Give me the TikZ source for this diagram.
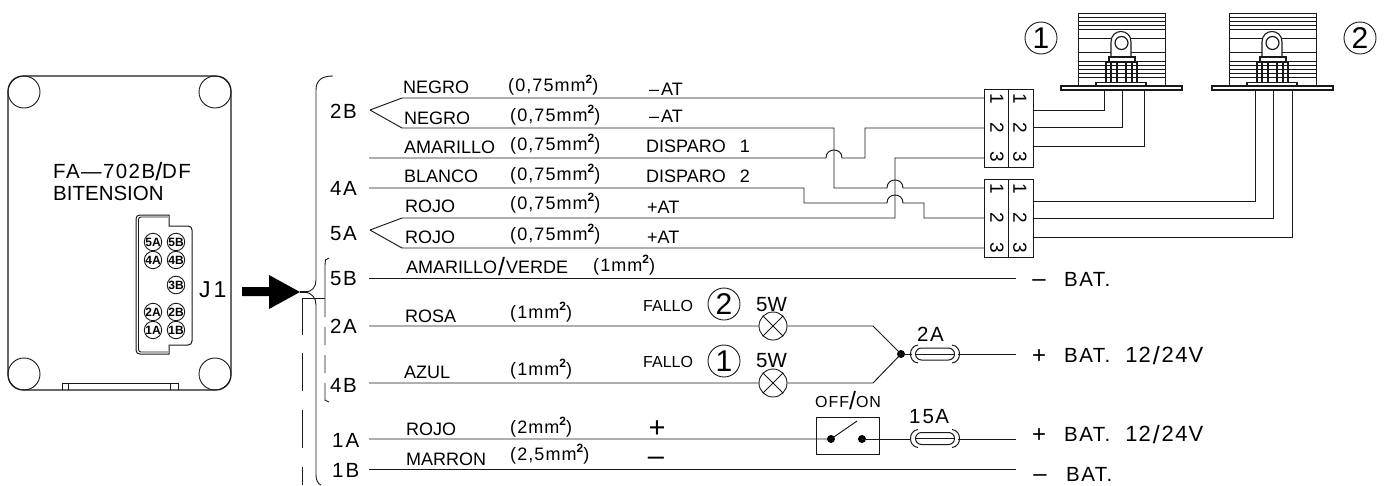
\documentclass[tikz,border=0pt]{standalone}
\usepackage{fontspec}
\setmainfont{Liberation Sans}
\newfontfamily\spfont[LetterSpace=7]{Liberation Sans}
\newfontfamily\midfont[LetterSpace=6]{Liberation Sans}
\tikzset{
  wire/.style={draw=black!90,line width=0.95pt,line join=miter},
  thinl/.style={draw=black!90,line width=0.9pt},
  lab/.style={anchor=base west,inner sep=0pt,font=\fontsize{18}{18}\selectfont},
  sec/.style={anchor=base west,inner sep=0pt,font=\midfont\fontsize{18}{18}\selectfont},
  small/.style={anchor=base west,inner sep=0pt,font=\fontsize{16}{16}\selectfont},
  smalls/.style={anchor=base west,inner sep=0pt,font=\midfont\fontsize{16}{16}\selectfont},
  big/.style={anchor=base west,inner sep=0pt,font=\fontsize{20.5}{20}\selectfont},
  bigs/.style={anchor=base west,inner sep=0pt,font=\spfont\fontsize{20.5}{20}\selectfont},
  signn/.style={anchor=base,inner sep=0pt,font=\fontsize{24}{24}\selectfont},
  signb/.style={anchor=base,inner sep=0pt,font=\fontsize{29}{29}\selectfont},
  pin/.style={circle,draw=black!90,line width=0.9pt,minimum size=17pt,inner sep=0pt,font=\bfseries\fontsize{12}{12}\selectfont},
  ringnum/.style={circle,draw=black!90,line width=0.9pt,minimum size=32pt,inner sep=0pt,font=\fontsize{30}{30}\selectfont},
  lampc/.style={circle,draw=black!90,line width=0.9pt,fill=white,minimum size=28pt,inner sep=0pt},
  digit/.style={rotate=-90,inner sep=0pt,font=\fontsize{19}{19}\selectfont},
  termbox/.style={draw=black!90,line width=0.9pt,minimum width=49pt,minimum height=78pt,inner sep=0pt},
  dotn/.style={circle,fill=black,minimum size=8pt,inner sep=0pt},
}
\newcommand{\mmq}[1]{(#1mm\raisebox{8pt}{\bfseries\fontsize{12}{12}\selectfont 2})}
\newcommand{\bsl}[1]{\kern#1\raisebox{-2pt}{\fontsize{25}{25}\selectfont/}\kern#1}
\newcommand{\batv}{{\fontsize{22}{22}\selectfont 1\kern1pt 2\bsl{2pt}2\kern1.5pt 4\kern1pt V}}
\newcommand{\lampbody}[1]{%
  \begin{scope}[shift={(#1,0)},thinl]
    \draw[line width=1pt] (0,86) -- (0,13) -- (87,13) -- (87,86);
    \foreach \yy in {17,21,25,29,38,52,61,65,69,73,77} {\draw (0,\yy) -- (87,\yy);}
    \draw[line width=1.1pt] (-17,86) rectangle (104,90);
    \draw[fill=white,line width=1.1pt] (33,57) -- (33,42) .. controls (33,28) and (53,28) .. (53,42) -- (53,57) -- cycle;
    \draw[line width=1.2pt] (43.5,43) circle[radius=6.5pt];
    \draw[fill=white,line width=1.1pt] (31,57) rectangle (57,62);
    \draw[line width=1.1pt] (28,62) rectangle (59,83);
    \foreach \xx in {33,39,48,54} {\draw[line width=1.1pt] (\xx,62) -- (\xx,83);}
    \draw[fill=white,line width=1.1pt] (18,82.5) rectangle (68,86);
  \end{scope}}
\newcommand{\fusebody}[2]{%
  \begin{scope}[shift={(#1,#2)},thinl]
    \draw[fill=white,line width=1pt,rounded corners=6pt] (-19.5,-6) rectangle (19.5,6);
    \draw (-19.5,0) -- (19.5,0);
    \draw[line width=1pt] (-17,-9) .. controls (-27,-8) and (-27,8) .. (-17,9);
    \draw[line width=1pt] (17,-9) .. controls (27,-8) and (27,8) .. (17,9);
  \end{scope}}
\begin{document}
\begin{tikzpicture}[x=1pt,y=-1pt]
\useasboundingbox (0,0) rectangle (1388,485);
% control unit
\draw[thinl,line width=1.1pt,rounded corners=15pt] (8,76) rectangle (231,390);
\foreach \cx/\cy in {24/92,215/92,24/374,215/374} {\draw[thinl] (\cx,\cy) circle[radius=16pt];}
\draw[thinl] (62,390) -- (62,383) -- (178,383) -- (178,390) (68,383) -- (68,390) (170,383) -- (170,390);
\node[bigs] (unit1) at (53,178) {FA—702B\bsl{0pt}DF};
\node[big] (unit2) at (53,200) {BITENSION};
\draw[thinl,line width=1pt] (169,215) -- (140,215) .. controls (137.5,215) and (136,216.5) .. (136,219) -- (136,350) .. controls (136,352.5) and (137.5,354) .. (140,354) -- (169,354) -- (169,345) -- (188,345) .. controls (190.5,345) and (192,343.5) .. (192,341) -- (192,230) .. controls (192,227.5) and (190.5,226) .. (188,226) -- (169,226) -- cycle;
\draw[thinl,line width=0.9pt] (168,217) -- (141,217) .. controls (139.5,217) and (138.5,218) .. (138.5,219.5) -- (138.5,349.5) .. controls (138.5,351) and (139.5,352) .. (141,352) -- (168,352);
\node[pin] (p5a) at (153,242) {5A};
\node[pin] (p5b) at (176,242) {5B};
\node[pin] (p4a) at (153,260) {4A};
\node[pin] (p4b) at (176,260) {4B};
\node[pin] (p3b) at (176,285) {3B};
\node[pin] (p2a) at (153,312) {2A};
\node[pin] (p2b) at (176,312) {2B};
\node[pin] (p1a) at (153,330) {1A};
\node[pin] (p1b) at (176,330) {1B};
\node[anchor=base west,inner sep=0pt,font=\fontsize{23}{23}\selectfont] (j1) at (199,297) {J\kern3pt 1};
% big arrow and brackets
\fill[black] (242,287) -- (269,287) -- (269,275) -- (300,292) -- (269,309) -- (269,296) -- (242,296) -- cycle;
\draw[wire,line width=1.3pt] (300,292) -- (308,292);
\draw[thinl] (333,76) .. controls (322,76) and (316,80) .. (316,90) -- (316,280) .. controls (316,287) and (312,292) .. (305,292);
\draw[thinl] (305,292) .. controls (312,293) and (316,298) .. (316,305) -- (316,475) .. controls (316,480) and (318,484) .. (321,485);
\draw[thinl] (329,258) -- (325.5,260) -- (325,265) -- (325,317);
\draw[thinl] (325,327) -- (325,345) (325,355) -- (325,373) (325,383) -- (325,400) -- (329,402);
\draw[thinl] (325,298) -- (302,298);
\draw[thinl] (302,298) -- (302,335) (302,353) -- (302,391) (302,410) -- (302,448) (302,467) -- (302,485);
% terminals
\node[termbox] (t1) at (1008.5,128) {};
\node[termbox] (t2) at (1008.5,218) {};
\draw[wire,line width=1.4pt] (t1.north) -- (t1.south);
\draw[wire,line width=1.4pt] (t2.north) -- (t2.south);
\foreach \yy/\dd [count=\ii] in {99/1,128/2,157/3} {
  \node[digit] (a\ii) at (997,\yy) {\dd};
  \node[digit] (b\ii) at (1020,\yy) {\dd};
}
\foreach \yy/\dd [count=\ii] in {189/1,218/2,248/3} {
  \node[digit] (c\ii) at (997,\yy) {\dd};
  \node[digit] (d\ii) at (1020,\yy) {\dd};
}
% wire anchor points
\coordinate (tip2b) at (370,110);
\coordinate (tip5a) at (370,230);
\coordinate (s1) at (984,98);
\coordinate (s2) at (984,128);
\coordinate (s3) at (984,158);
\coordinate (u1) at (984,188);
\coordinate (u2) at (984,218);
\coordinate (u3) at (984,248);
% harness wires
\draw[wire] (tip2b) -- (402,98) -- (s1);
\draw[wire] (tip2b) -- (402,128) -- (834,128) -- (834,188) -- (887,188) .. controls (887,177.3) and (903,177.3) .. (903,188) -- (u1);
\draw[wire] (369,158) -- (826,158) .. controls (826,147.3) and (842,147.3) .. (842,158) -- (865,158) -- (865,128) -- (s2);
\draw[wire] (369,188) -- (804,188) -- (804,203) -- (887,203) .. controls (887,192.3) and (903,192.3) .. (903,203) -- (924,203) -- (924,218) -- (u2);
\draw[wire] (tip5a) -- (402,218) -- (895,218) -- (895,158) -- (s3);
\draw[wire] (tip5a) -- (402,248) -- (u3);
% lamps
\lampbody{1078}
\lampbody{1229}
\coordinate (la1) at (1104,90); \coordinate (la2) at (1122,90); \coordinate (la3) at (1144,90);
\coordinate (lb1) at (1255,90); \coordinate (lb2) at (1273,90); \coordinate (lb3) at (1292,90);
\draw[wire] (1033,110) -| (la1);
\draw[wire] (1033,127) -| (la2);
\draw[wire] (1033,146) -| (la3);
\draw[wire] (1033,201) -| (lb1);
\draw[wire] (1033,218) -| (lb2);
\draw[wire] (1033,237) -| (lb3);
\node[ringnum] (r1) at (1041,38) {1};
\node[ringnum] (r2) at (1360,38) {2};
% lower wires
\coordinate (e5b) at (1016,278);
\coordinate (e2a) at (1016,354);
\coordinate (e1a) at (1016,439);
\coordinate (e1b) at (1016,469);
\draw[wire] (369,278) -- (e5b);
\draw[wire] (369,469) -- (e1b);
\node[lampc] (lamp2) at (773,326) {};
\node[lampc] (lamp1) at (773,383) {};
\draw[thinl] (lamp2.45) -- (lamp2.225) (lamp2.135) -- (lamp2.315);
\draw[thinl] (lamp1.45) -- (lamp1.225) (lamp1.135) -- (lamp1.315);
\node[dotn] (jn) at (901,354) {};
\draw[wire] (369,326) -- (lamp2.west) (lamp2.east) -- (873,326) -- (jn.center);
\draw[wire] (369,383) -- (lamp1.west) (lamp1.east) -- (873,383) -- (jn.center);
\draw[wire] (jn.center) -- (912,354);
\fusebody{935}{354}
\draw[wire] (958,354) -- (e2a);
\node[draw=black!90,line width=1pt,minimum width=63pt,minimum height=37pt,inner sep=0pt] (sw) at (847.5,435.5) {};
\node[dotn] (sa) at (831,439) {};
\node[dotn] (sb) at (862,439) {};
\coordinate (blade) at (857,421);
\draw[wire] (369,439) -- (sa.center) -- (blade);
\draw[wire] (sb.center) -- (911,439);
\fusebody{935}{438.5}
\draw[wire] (958,439) -- (e1a);
% left labels
\node[bigs] (l2b) at (330,118) {2B};
\node[bigs] (l4a) at (330,195) {4A};
\node[bigs] (l5a) at (330,240) {5A};
\node[bigs] (l5b) at (330,285) {5B};
\node[bigs] (l2a) at (330,333) {2A};
\node[bigs] (l4b) at (330,392) {4B};
\node[big] (l1a) at (332,447) {1\kern2pt A};
\node[big] (l1b) at (332,477) {1\kern2pt B};
% wire labels
\node[lab] (n1) at (403,93) {NEGRO};
\node[lab] (n2) at (404,124) {NEGRO};
\node[lab] (n3) at (404,153) {AMARILLO};
\node[lab] (n4) at (404,182) {BLANCO};
\node[lab] (n5) at (405,212) {ROJO};
\node[lab] (n6) at (405,243) {ROJO};
\node[lab] (n7) at (406,273) {AMARILLO\bsl{1pt}VERDE};
\node[lab] (n8) at (405,322) {ROSA};
\node[lab] (n9) at (404,378) {AZUL};
\node[lab] (n10) at (406,435) {ROJO};
\node[lab] (n11) at (406,465) {MARRON};
\node[sec] (m1) at (508,91) {\mmq{0,75}};
\node[sec] (m2) at (510,121) {\mmq{0,75}};
\node[sec] (m3) at (510,150) {\mmq{0,75}};
\node[sec] (m4) at (510,180) {\mmq{0,75}};
\node[sec] (m5) at (510,209) {\mmq{0,75}};
\node[sec] (m6) at (510,240) {\mmq{0,75}};
\node[sec] (m7) at (593,271) {\mmq{1}};
\node[sec] (m8) at (510,318) {\mmq{1}};
\node[sec] (m9) at (510,375) {\mmq{1}};
\node[sec] (m10) at (510,433) {\mmq{2}};
\node[sec] (m11) at (510,460) {\mmq{2,5}};
\node[lab] (f1) at (649,95) {--\kern2pt AT};
\node[lab] (f2) at (649,122) {--\kern2pt AT};
\node[lab] (f3) at (646,152) {DISPARO\hspace{14pt}1};
\node[lab] (f4) at (646,182) {DISPARO\hspace{14pt}2};
\node[lab] (f5) at (647,213) {+AT};
\node[lab] (f6) at (647,243) {+AT};
\node[small] (fa2) at (643,311) {FALLO};
\node[small] (fa1) at (643,367) {FALLO};
\node[ringnum] (rf2) at (724,304) {2};
\node[ringnum] (rf1) at (724,361) {1};
\node[big] (w2) at (756,311) {5W};
\node[big] (w1) at (756,367) {5W};
\node[bigs] (a2) at (917,341) {2A};
\node[bigs] (a15) at (909,423) {1\kern2pt 5A};
\node[smalls] (oo) at (815,407) {OFF\bsl{0pt}ON};
\node[signb] (plus) at (657,437) {+};
\node[signb] (minus) at (656,465.5) {--};
% battery labels
\node[signn] (b1m) at (1039,286) {--};
\node[bigs] (b1) at (1064,286) {BAT.};
\node[signn] (b2p) at (1039,363) {+};
\node[bigs] (b2) at (1064,362) {BAT.\hspace{15pt}\batv};
\node[signn] (b3p) at (1039,442) {+};
\node[bigs] (b3) at (1064,441) {BAT.\hspace{15pt}\batv};
\node[signn] (b4m) at (1040,481) {--};
\node[bigs] (b4) at (1066,481) {BAT.};
\end{tikzpicture}
\end{document}
